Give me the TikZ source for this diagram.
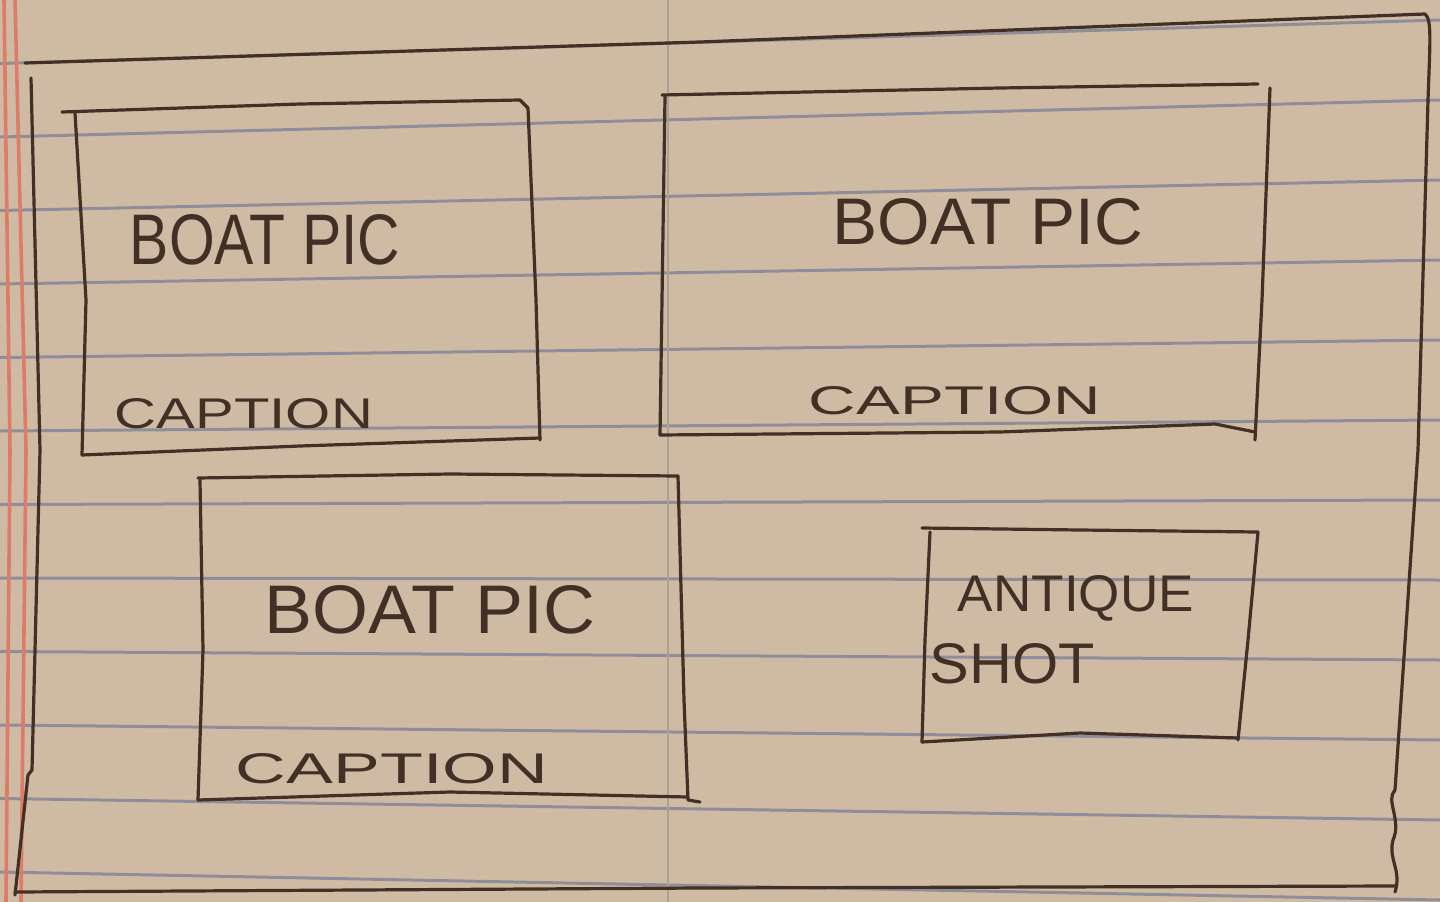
\documentclass[tikz,border=0pt]{standalone}
\usepackage{fontspec}
\setmainfont{Liberation Sans}
\usepackage{graphicx}
\definecolor{paper}{RGB}{207,187,164}
\definecolor{rule}{RGB}{122,128,148}
\definecolor{margin}{RGB}{222,124,104}
\definecolor{pen}{RGB}{66,48,38}
\definecolor{fold}{RGB}{170,160,148}
\newcommand{\hw}[3]{\resizebox{#1pt}{#2pt}{#3}}
\tikzset{
  ruleline/.style={draw=rule, line width=3pt, opacity=0.75},
  marginline/.style={draw=margin, line width=3.6pt},
  penline/.style={draw=pen, line width=3.2pt, line cap=round, line join=round},
  hand/.style={text=pen, inner sep=0pt, anchor=center},
}
\begin{document}
\begin{tikzpicture}[x=1pt,y=-1pt]
\useasboundingbox (0,0) rectangle (1440,902);
\fill[paper] (0,0) rectangle (1440,902);
% ruled lines
\foreach \i in {-1,...,10}{
  \draw[ruleline] (0,{137+73.5*\i}) -- (1440,{100+80*\i});
}
% fold line
\draw[draw=fold, line width=1.5pt] (668,0) -- (668,902);
% margin lines
\draw[marginline] (4,0) -- (10,450) -- (6,902);
\draw[marginline] (15,0) -- (26,450) -- (21,902);
% outer frame
\draw[penline] (25,63) -- (700,42) -- (1425,14);
\draw[penline] (1425,14) .. controls (1432,20) and (1430,40) .. (1428,100) -- (1418,450) -- (1395,790);
\draw[penline] (1395,790) .. controls (1385,800) and (1402,820) .. (1393,840) .. controls (1388,860) and (1402,870) .. (1395,892);
\draw[penline] (31,78) -- (40,450) -- (32,770) -- (28,775) -- (15,895);
\draw[penline] (15,892) -- (700,888) -- (1395,886);
% box 1
\draw[penline] (62,112) -- (300,104) -- (520,100) -- (528,108);
\draw[penline] (75,113) -- (86,300) -- (82,455);
\draw[penline] (528,108) -- (536,300) -- (540,440);
\draw[penline] (82,455) -- (300,446) -- (540,438);
% box 2
\draw[penline] (662,95) -- (1000,88) -- (1258,84);
\draw[penline] (1270,88) -- (1262,300) -- (1255,440);
\draw[penline] (665,97) -- (660,435);
\draw[penline] (660,435) -- (1000,432) -- (1215,424) -- (1255,432);
% box 3
\draw[penline] (198,478) -- (450,474) -- (678,476);
\draw[penline] (200,480) -- (203,650) -- (198,800);
\draw[penline] (678,476) -- (684,700) -- (688,800) -- (700,802);
\draw[penline] (198,800) -- (450,792) -- (688,797);
% box 4
\draw[penline] (922,528) -- (1080,530) -- (1258,532);
\draw[penline] (1258,532) -- (1248,640) -- (1238,740);
\draw[penline] (930,532) -- (925,640) -- (922,742);
\draw[penline] (922,742) -- (1080,733) -- (1238,738);
% texts
\node[hand] (t1) at (265,240) {\hw{270}{50}{BOAT PIC}};
\node[hand] (c1) at (244,414) {\hw{258}{30}{CAPTION}};
\node[hand] (t2) at (988,222) {\hw{310}{46}{BOAT PIC}};
\node[hand] (c2) at (955,401) {\hw{292}{28}{CAPTION}};
\node[hand] (t3) at (430,610) {\hw{330}{48}{BOAT PIC}};
\node[hand] (c3) at (392,769) {\hw{312}{30}{CAPTION}};
\node[hand] (a1) at (1076,598) {\hw{236}{36}{ANTIQUE}};
\node[hand] (a2) at (1012,664) {\hw{165}{40}{SHOT}};
\end{tikzpicture}
\end{document}
